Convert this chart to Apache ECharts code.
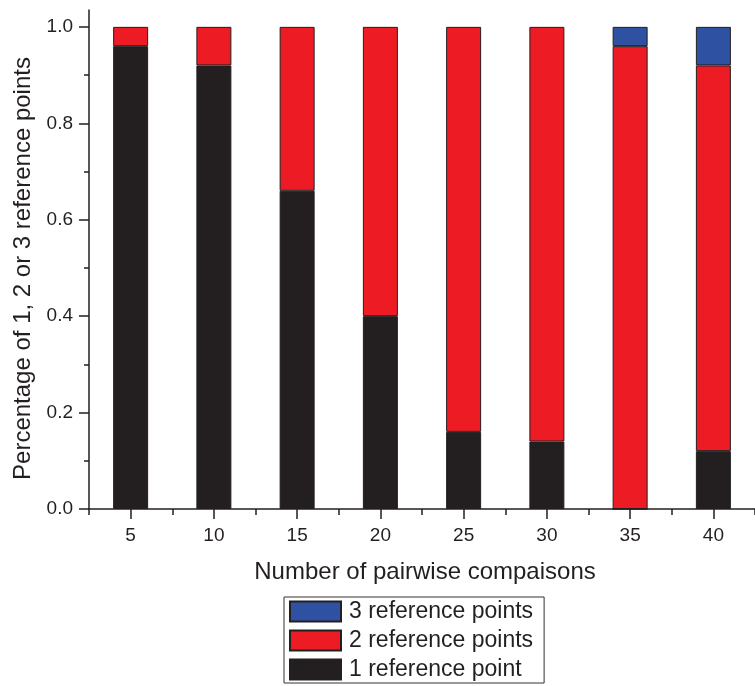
<!DOCTYPE html>
<html>
<head>
<meta charset="utf-8">
<script src="https://cdn.jsdelivr.net/npm/echarts@6/dist/echarts.min.js"></script>
<style>
html,body{margin:0;padding:0;background:#fff;}
#chart{width:755px;height:686px;}
</style>
</head>
<body>
<div id="chart"></div>
<script>
var categories = ['5', '10', '15', '20', '25', '30', '35', '40'];
var oneRef = [0.96, 0.92, 0.66, 0.40, 0.16, 0.14, 0, 0.12];
var twoRef = [0.04, 0.08, 0.34, 0.60, 0.84, 0.86, 0.96, 0.80];
var threeRef = [null, null, null, null, null, null, 0.04, 0.08];
var yMajorTicks = [0, 0.2, 0.4, 0.6, 0.8, 1.0];
var yMinorTicks = [0.1, 0.3, 0.5, 0.7, 0.9];

var dark = '#231f20';
var font = 'Liberation Sans, Arial, sans-serif';
var chart = echarts.init(document.getElementById('chart'));
var yMax = 1.035;
chart.setOption({
  animation: false,
  backgroundColor: '#fff',
  grid: {left: 89, right: -4, top: 10, bottom: 177, containLabel: false},
  legend: {
    orient: 'vertical',
    left: 284, top: 597,
    data: ['3 reference points', '2 reference points', '1 reference point'],
    itemWidth: 51, itemHeight: 20, itemGap: 6,
    padding: [3, 11, 2, 5],
    borderColor: '#333', borderWidth: 1,
    icon: 'rect',
    textStyle: {fontFamily: font, fontSize: 23, color: dark, lineHeight: 20, padding: [0, 0, 0, 3]}
  },
  xAxis: [{
    type: 'category', data: categories, position: 'bottom',
    axisLine: {lineStyle: {color: dark, width: 1.5}},
    axisTick: {show: true, alignWithLabel: false, length: 6, lineStyle: {color: dark, width: 1.5}},
    axisLabel: {show: true, fontFamily: font, fontSize: 19, color: dark, margin: 17},
    name: 'Number of pairwise compaisons', nameLocation: 'middle', nameGap: 51,
    nameTextStyle: {fontFamily: font, fontSize: 24, color: dark, padding: [0, 0, 0, 6]},
    splitLine: {show: false}
  }, {
    type: 'category', data: categories, position: 'bottom',
    axisLine: {show: false},
    axisTick: {show: true, alignWithLabel: true, length: 10, lineStyle: {color: dark, width: 1.5}},
    axisLabel: {show: false},
    splitLine: {show: false}
  }],
  yAxis: [{
    type: 'value', min: 0, max: yMax,
    axisLine: {show: true, lineStyle: {color: dark, width: 1.5}},
    axisTick: {show: true, length: 10, customValues: yMajorTicks, lineStyle: {color: dark, width: 1.5}},
    axisLabel: {fontFamily: font, fontSize: 19, color: dark, margin: 16, customValues: yMajorTicks,
      formatter: function (v) { return v.toFixed(1); }},
    splitLine: {show: false},
    name: 'Percentage of 1, 2 or 3 reference points', nameLocation: 'middle', nameGap: 43,
    nameRotate: 90,
    nameTextStyle: {fontFamily: font, fontSize: 24, color: dark, padding: [0, 18, 0, 0]}
  }, {
    type: 'value', min: 0, max: yMax, position: 'left',
    axisLine: {show: false},
    axisTick: {show: true, length: 5, customValues: yMinorTicks, lineStyle: {color: dark, width: 1.5}},
    axisLabel: {show: false},
    splitLine: {show: false}
  }],
  series: [{
    name: '1 reference point', type: 'bar', stack: 'a', data: oneRef, barWidth: 35,
    itemStyle: {color: dark, borderColor: dark, borderWidth: 1}
  }, {
    name: '2 reference points', type: 'bar', stack: 'a', data: twoRef, barWidth: 35,
    itemStyle: {color: '#ed1c24', borderColor: dark, borderWidth: 1}
  }, {
    name: '3 reference points', type: 'bar', stack: 'a', data: threeRef, barWidth: 35,
    itemStyle: {color: '#2e51a2', borderColor: dark, borderWidth: 1}
  }]
});
</script>
</body>
</html>
